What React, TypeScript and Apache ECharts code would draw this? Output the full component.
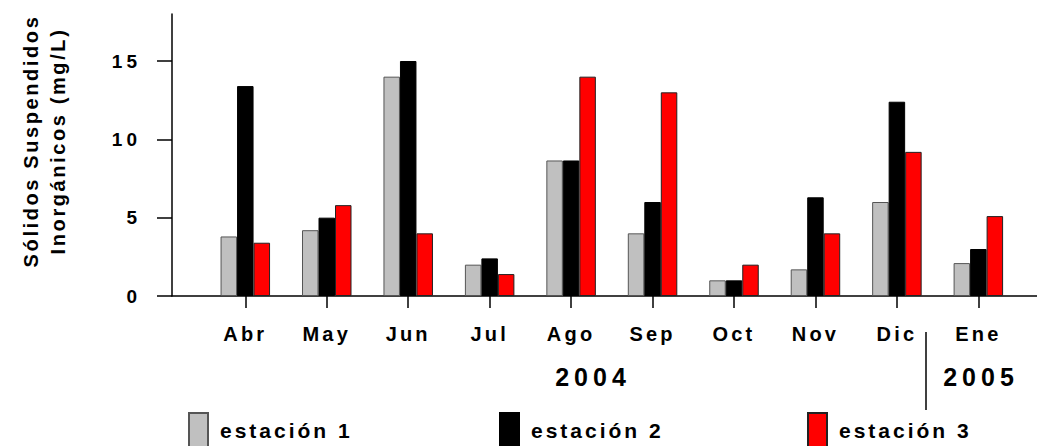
import React, { useEffect, useRef } from "react";
import * as echarts from "echarts";

const months = ["Abr", "May", "Jun", "Jul", "Ago", "Sep", "Oct", "Nov", "Dic", "Ene"];
const estacion1 = [3.8, 4.2, 14.0, 2.0, 8.65, 4.0, 1.0, 1.7, 6.0, 2.1];
const estacion2 = [13.4, 5.0, 15.0, 2.4, 8.65, 6.0, 1.0, 6.3, 12.4, 3.0];
const estacion3 = [3.4, 5.8, 4.0, 1.4, 14.0, 13.0, 2.0, 4.0, 9.2, 5.1];
const seriesNames = ["estación 1", "estación 2", "estación 3"];
const yTicks = [0, 5, 10, 15];
const years = ["2004", "2005"];
const yTitle = "Sólidos Suspendidos\nInorgánicos (mg/L)";

const colors = ["#C0C0C0", "#000000", "#FF0000"];
const borders = ["#555555", "#000000", "#222222"];

export default function App() {
  const ref = useRef<HTMLDivElement>(null);
  useEffect(() => {
    if (!ref.current) return;
    const chart = echarts.init(ref.current, null, { renderer: "svg" });
    const datasets = [estacion1, estacion2, estacion3];
    const legendLefts = [188, 499, 807];
    chart.setOption({
      animation: false,
      backgroundColor: "#ffffff",
      grid: { left: 172, right: 0, top: 14, bottom: 150, containLabel: false },
      xAxis: {
        type: "value",
        min: -0.9,
        max: 9.72,
        splitLine: { show: false },
        axisLine: { show: true, onZero: false, lineStyle: { color: "#000", width: 1.5 } },
        axisTick: { show: true, length: 12, customValues: months.map((_, i) => i), lineStyle: { color: "#000", width: 1.5 } },
        axisLabel: {
          customValues: months.map((_, i) => i),
          formatter: (v: number) => months[Math.round(v)] ?? "",
          margin: 28,
          fontFamily: "Arial",
          fontWeight: "bold",
          fontSize: 20,
          color: "#000",
        },
      },
      yAxis: {
        type: "value",
        min: 0,
        max: 18,
        splitLine: { show: false },
        axisLine: { show: true, onZero: false, lineStyle: { color: "#000", width: 1.5 } },
        axisTick: { show: true, length: 15, customValues: yTicks, lineStyle: { color: "#000", width: 1.5 } },
        axisLabel: {
          customValues: yTicks,
          margin: 31,
          fontFamily: "Arial",
          fontWeight: "bold",
          fontSize: 19,
          color: "#000",
        },
      },
      legend: seriesNames.map((name, i) => ({
        data: [name],
        left: legendLefts[i],
        top: 412,
        padding: 0,
        itemWidth: 19,
        itemHeight: 34,
        icon: "rect",
        textStyle: {
          fontFamily: "Arial",
          fontWeight: "bold",
          fontSize: 21,
          color: "#000",
          padding: [3, 0, 0, 7],
        },
      })),
      series: seriesNames.map((name, i) => ({
        name,
        type: "bar",
        barWidth: 16.5,
        barGap: "0%",
        data: months.map((_, j) => [j, datasets[i][j]]),
        itemStyle: { color: colors[i], borderColor: borders[i], borderWidth: 1 },
      })),
      graphic: [
        {
          type: "text",
          x: 44,
          y: 141,
          rotation: Math.PI / 2,
          style: {
            text: yTitle,
            font: "bold 20px 'Liberation Sans'",
            lineHeight: 27,
            fill: "#000",
            align: "center",
            verticalAlign: "middle",
            textAlign: "center",
            textVerticalAlign: "middle",
          },
        },
        {
          type: "text",
          x: 593,
          y: 377,
          style: {
            text: years[0],
            font: "bold 25px Arial",
            fill: "#000",
            align: "center",
            verticalAlign: "middle",
            textAlign: "center",
            textVerticalAlign: "middle",
          },
        },
        {
          type: "text",
          x: 981,
          y: 377,
          style: {
            text: years[1],
            font: "bold 25px Arial",
            fill: "#000",
            align: "center",
            verticalAlign: "middle",
            textAlign: "center",
            textVerticalAlign: "middle",
          },
        },
        {
          type: "line",
          shape: { x1: 926, y1: 332, x2: 926, y2: 410 },
          style: { stroke: "#000", lineWidth: 1.5 },
        },
      ],
    });
    return () => chart.dispose();
  }, []);
  return (
    <>
      <style>{`
        #chartbox svg text { letter-spacing: 3.2px; }
        #chartbox svg text[style*="19px"] { letter-spacing: 4px; }
        #chartbox svg text[style*="21px"] { letter-spacing: 3px; }
        #chartbox svg text[style*="25px"] { letter-spacing: 5px; }
        #chartbox svg text[style*="Liberation"] { letter-spacing: 2.6px; }
      `}</style>
      <div
        id="chartbox"
        ref={ref}
        style={{ position: "fixed", left: 0, top: 0, width: 1037, height: 446 }}
      />
    </>
  );
}
